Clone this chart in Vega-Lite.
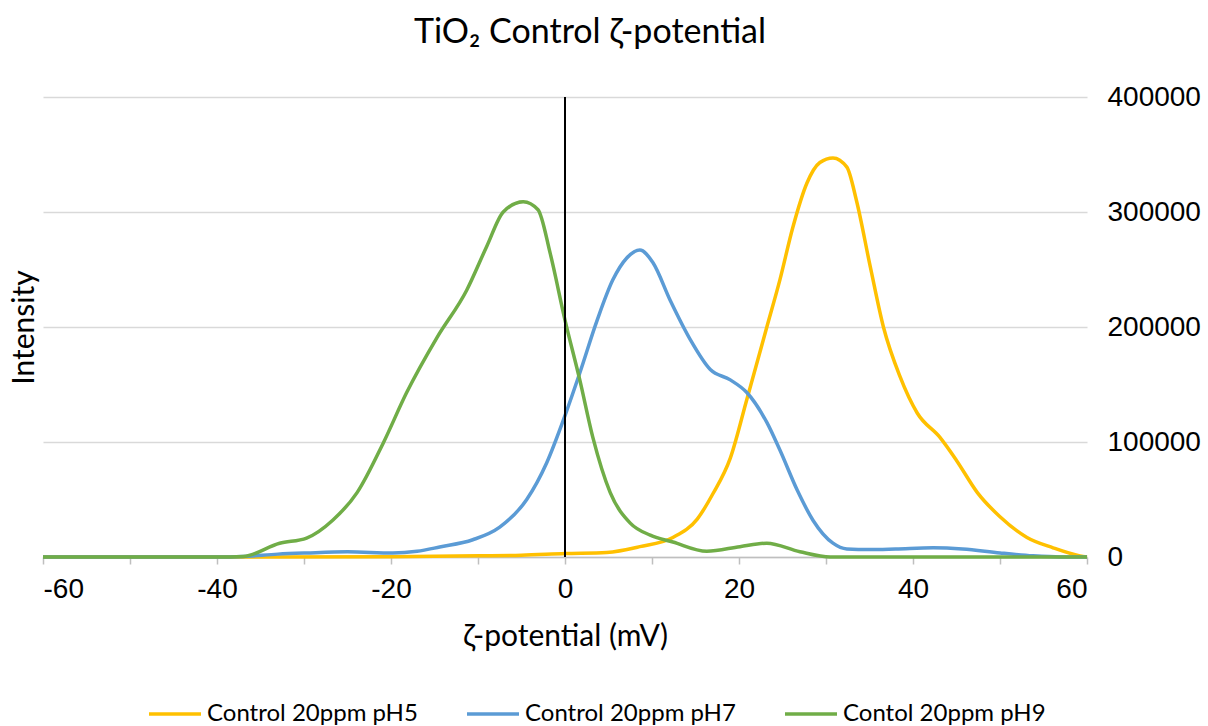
{
  "$schema": "https://vega.github.io/schema/vega-lite/v6.json",
  "width": 1044,
  "height": 460,
  "autosize": {"type": "none"},
  "padding": {"left": 43, "top": 97, "right": 121, "bottom": 169},
  "background": "white",
  "title": {
    "text": "TiO₂ Control ζ-potential",
    "font": "Lato",
    "fontSize": 34,
    "fontWeight": "normal",
    "color": "#000000",
    "anchor": "middle",
    "baseline": "bottom",
    "offset": -1,
    "dx": 25
  },
  "config": {
    "view": {"stroke": null},
    "axis": {"labelFont": "Liberation Sans", "titleFont": "Lato", "titleFontWeight": "normal", "titleColor": "#000000", "labelColor": "#000000"}
  },
  "data": {
    "values": [
      {"x": -60, "y": 0, "s": "Control 20ppm pH5"},
      {"x": -40, "y": 0, "s": "Control 20ppm pH5"},
      {"x": -20, "y": 300, "s": "Control 20ppm pH5"},
      {"x": -10, "y": 1000, "s": "Control 20ppm pH5"},
      {"x": -5, "y": 1500, "s": "Control 20ppm pH5"},
      {"x": 0, "y": 3000, "s": "Control 20ppm pH5"},
      {"x": 4.8, "y": 4000, "s": "Control 20ppm pH5"},
      {"x": 8.6, "y": 9000, "s": "Control 20ppm pH5"},
      {"x": 12.4, "y": 17000, "s": "Control 20ppm pH5"},
      {"x": 15.2, "y": 33000, "s": "Control 20ppm pH5"},
      {"x": 17, "y": 55000, "s": "Control 20ppm pH5"},
      {"x": 19, "y": 86000, "s": "Control 20ppm pH5"},
      {"x": 20.9, "y": 137000, "s": "Control 20ppm pH5"},
      {"x": 23.2, "y": 200000, "s": "Control 20ppm pH5"},
      {"x": 24.7, "y": 241000, "s": "Control 20ppm pH5"},
      {"x": 26.2, "y": 287000, "s": "Control 20ppm pH5"},
      {"x": 27.8, "y": 325000, "s": "Control 20ppm pH5"},
      {"x": 29.3, "y": 343000, "s": "Control 20ppm pH5"},
      {"x": 30.8, "y": 347000, "s": "Control 20ppm pH5"},
      {"x": 32.4, "y": 339000, "s": "Control 20ppm pH5"},
      {"x": 33.5, "y": 310000, "s": "Control 20ppm pH5"},
      {"x": 35.1, "y": 252000, "s": "Control 20ppm pH5"},
      {"x": 36.6, "y": 200000, "s": "Control 20ppm pH5"},
      {"x": 38.5, "y": 157000, "s": "Control 20ppm pH5"},
      {"x": 40.5, "y": 125000, "s": "Control 20ppm pH5"},
      {"x": 43.1, "y": 104000, "s": "Control 20ppm pH5"},
      {"x": 45, "y": 84000, "s": "Control 20ppm pH5"},
      {"x": 47.4, "y": 56000, "s": "Control 20ppm pH5"},
      {"x": 50, "y": 35000, "s": "Control 20ppm pH5"},
      {"x": 53.1, "y": 17000, "s": "Control 20ppm pH5"},
      {"x": 56.1, "y": 8000, "s": "Control 20ppm pH5"},
      {"x": 59.2, "y": 1000, "s": "Control 20ppm pH5"},
      {"x": 60, "y": 0, "s": "Control 20ppm pH5"},

      {"x": -60, "y": 0, "s": "Control 20ppm pH7"},
      {"x": -40, "y": 0, "s": "Control 20ppm pH7"},
      {"x": -37, "y": 500, "s": "Control 20ppm pH7"},
      {"x": -33, "y": 2500, "s": "Control 20ppm pH7"},
      {"x": -29.7, "y": 3500, "s": "Control 20ppm pH7"},
      {"x": -25, "y": 4500, "s": "Control 20ppm pH7"},
      {"x": -19.8, "y": 3500, "s": "Control 20ppm pH7"},
      {"x": -17, "y": 5000, "s": "Control 20ppm pH7"},
      {"x": -14.4, "y": 8700, "s": "Control 20ppm pH7"},
      {"x": -10.6, "y": 15000, "s": "Control 20ppm pH7"},
      {"x": -7.5, "y": 26000, "s": "Control 20ppm pH7"},
      {"x": -4.4, "y": 50000, "s": "Control 20ppm pH7"},
      {"x": -2.1, "y": 82000, "s": "Control 20ppm pH7"},
      {"x": 0, "y": 123000, "s": "Control 20ppm pH7"},
      {"x": 1.7, "y": 160000, "s": "Control 20ppm pH7"},
      {"x": 3.7, "y": 206000, "s": "Control 20ppm pH7"},
      {"x": 5.5, "y": 241000, "s": "Control 20ppm pH7"},
      {"x": 7.1, "y": 260000, "s": "Control 20ppm pH7"},
      {"x": 8.6, "y": 267000, "s": "Control 20ppm pH7"},
      {"x": 10.1, "y": 256000, "s": "Control 20ppm pH7"},
      {"x": 12.1, "y": 223000, "s": "Control 20ppm pH7"},
      {"x": 14.4, "y": 189000, "s": "Control 20ppm pH7"},
      {"x": 16.7, "y": 163000, "s": "Control 20ppm pH7"},
      {"x": 19, "y": 154000, "s": "Control 20ppm pH7"},
      {"x": 20.9, "y": 143000, "s": "Control 20ppm pH7"},
      {"x": 23.2, "y": 117000, "s": "Control 20ppm pH7"},
      {"x": 24.7, "y": 93000, "s": "Control 20ppm pH7"},
      {"x": 26.7, "y": 58000, "s": "Control 20ppm pH7"},
      {"x": 28.5, "y": 32000, "s": "Control 20ppm pH7"},
      {"x": 30.8, "y": 12000, "s": "Control 20ppm pH7"},
      {"x": 32.4, "y": 7000, "s": "Control 20ppm pH7"},
      {"x": 35, "y": 6500, "s": "Control 20ppm pH7"},
      {"x": 38, "y": 7000, "s": "Control 20ppm pH7"},
      {"x": 42.3, "y": 8000, "s": "Control 20ppm pH7"},
      {"x": 45.7, "y": 7000, "s": "Control 20ppm pH7"},
      {"x": 50, "y": 3500, "s": "Control 20ppm pH7"},
      {"x": 53.8, "y": 1000, "s": "Control 20ppm pH7"},
      {"x": 57, "y": 0, "s": "Control 20ppm pH7"},
      {"x": 60, "y": 0, "s": "Control 20ppm pH7"},

      {"x": -60, "y": 0, "s": "Contol 20ppm pH9"},
      {"x": -40, "y": 0, "s": "Contol 20ppm pH9"},
      {"x": -37, "y": 500, "s": "Contol 20ppm pH9"},
      {"x": -32.8, "y": 12000, "s": "Contol 20ppm pH9"},
      {"x": -29.7, "y": 16500, "s": "Contol 20ppm pH9"},
      {"x": -26.7, "y": 32000, "s": "Contol 20ppm pH9"},
      {"x": -23.9, "y": 56000, "s": "Contol 20ppm pH9"},
      {"x": -20.9, "y": 99000, "s": "Contol 20ppm pH9"},
      {"x": -18.2, "y": 143000, "s": "Contol 20ppm pH9"},
      {"x": -14.7, "y": 191000, "s": "Contol 20ppm pH9"},
      {"x": -11.3, "y": 232000, "s": "Contol 20ppm pH9"},
      {"x": -9, "y": 270000, "s": "Contol 20ppm pH9"},
      {"x": -7.1, "y": 300000, "s": "Contol 20ppm pH9"},
      {"x": -4.8, "y": 309000, "s": "Contol 20ppm pH9"},
      {"x": -3.1, "y": 302000, "s": "Contol 20ppm pH9"},
      {"x": -1.7, "y": 264000, "s": "Contol 20ppm pH9"},
      {"x": 0, "y": 206000, "s": "Contol 20ppm pH9"},
      {"x": 1.7, "y": 154000, "s": "Contol 20ppm pH9"},
      {"x": 3.2, "y": 104000, "s": "Contol 20ppm pH9"},
      {"x": 5.2, "y": 56000, "s": "Contol 20ppm pH9"},
      {"x": 7.5, "y": 29500, "s": "Contol 20ppm pH9"},
      {"x": 9.8, "y": 19000, "s": "Contol 20ppm pH9"},
      {"x": 12.4, "y": 13000, "s": "Contol 20ppm pH9"},
      {"x": 16.3, "y": 5000, "s": "Contol 20ppm pH9"},
      {"x": 20.1, "y": 9000, "s": "Contol 20ppm pH9"},
      {"x": 23.2, "y": 12000, "s": "Contol 20ppm pH9"},
      {"x": 27, "y": 4500, "s": "Contol 20ppm pH9"},
      {"x": 30.5, "y": 0, "s": "Contol 20ppm pH9"},
      {"x": 60, "y": 0, "s": "Contol 20ppm pH9"}
    ]
  },
  "layer": [
    {
      "mark": {"type": "rule", "strokeWidth": 0, "opacity": 0},
      "encoding": {
        "y": {
          "field": "y", "type": "quantitative",
          "scale": {"domain": [0, 400000]},
          "axis": {"orient": "left", "title": "Intensity", "titleFontSize": 30, "titlePadding": 4, "labels": false, "ticks": false, "domain": false, "grid": false}
        }
      }
    },
    {
      "mark": {"type": "line", "interpolate": "monotone", "strokeWidth": 3.5},
      "encoding": {
        "x": {
          "field": "x", "type": "quantitative",
          "scale": {"domain": [-60, 60], "nice": false},
          "axis": {
            "title": "ζ-potential (mV)",
            "titleFontSize": 30,
            "titlePadding": 18,
            "values": [-60, -50, -40, -30, -20, -10, 0, 10, 20, 30, 40, 50, 60],
            "labelExpr": "datum.value % 20 === 0 ? (datum.value < 0 ? '-' + abs(datum.value) : '' + datum.value) : ''",
            "labelFontSize": 28,
            "labelPadding": 11,
            "domainColor": "#bfbfbf",
            "domainWidth": 1.5,
            "tickColor": "#bfbfbf",
            "tickWidth": 1.5,
            "tickSize": 7,
            "grid": false
          }
        },
        "y": {
          "field": "y", "type": "quantitative",
          "axis": {
            "orient": "right", "title": null,
            "values": [0, 100000, 200000, 300000, 400000],
            "format": "d",
            "labelFontSize": 28,
            "labelPadding": 20,
            "ticks": false, "domain": false,
            "grid": true, "gridColor": "#d9d9d9", "gridWidth": 1.5
          }
        },
        "color": {
          "field": "s", "type": "nominal",
          "scale": {"domain": ["Control 20ppm pH5", "Control 20ppm pH7", "Contol 20ppm pH9"], "range": ["#FFC000", "#5B9BD5", "#70AD47"]},
          "legend": {
            "title": null,
            "orient": "none",
            "legendX": 104,
            "legendY": 589,
            "direction": "horizontal",
            "symbolType": "stroke",
            "symbolSize": 2704,
            "symbolStrokeWidth": 3.5,
            "labelFont": "Lato",
            "labelFontSize": 24,
            "labelColor": "#000000",
            "labelOffset": 4,
            "labelLimit": 400,
            "columnPadding": 42
          }
        }
      }
    },
    {
      "mark": {"type": "rule", "color": "#000000", "strokeWidth": 1.5},
      "encoding": {"x": {"datum": 0}}
    }
  ],
  "resolve": {"axis": {"y": "independent"}}
}
